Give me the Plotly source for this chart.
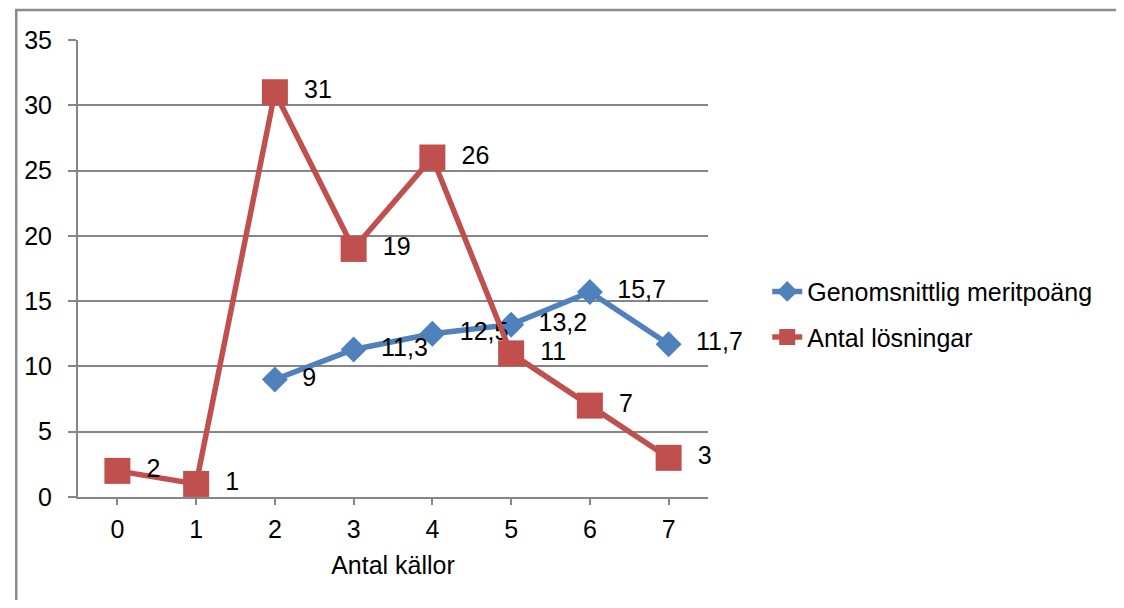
import plotly.graph_objects as go

categories = [0, 1, 2, 3, 4, 5, 6, 7]
meritpoang = [None, None, 9, 11.3, 12.5, 13.2, 15.7, 11.7]
losningar = [2, 1, 31, 19, 26, 11, 7, 3]
y_ticks = [0, 5, 10, 15, 20, 25, 30, 35]

def fmt(v, pad):
    if v is None:
        return ""
    s = ("%g" % v).replace(".", ",")
    return pad + s

BLUE = "#4F81BD"
RED = "#C0504D"
GRID = "#868686"
FONT = "Liberation Sans, Arial, sans-serif"
FS = 25

fig = go.Figure()
fig.add_trace(go.Scatter(
    x=categories, y=meritpoang, name="Genomsnittlig meritpoäng",
    mode="lines+markers+text",
    line=dict(color=BLUE, width=5.5),
    marker=dict(symbol="diamond", size=20, color=BLUE),
    text=[fmt(v, "\u00a0\u00a0") for v in meritpoang], textposition="middle right",
    textfont=dict(size=FS, color="black", family=FONT),
    legendgroup="a", cliponaxis=False,
))
fig.add_trace(go.Scatter(
    x=categories, y=losningar, name="Antal lösningar",
    mode="lines+markers+text",
    line=dict(color=RED, width=5.5),
    marker=dict(symbol="square", size=26, color=RED),
    text=[fmt(v, "\u00a0\u2009") for v in losningar], textposition="middle right",
    textfont=dict(size=FS, color="black", family=FONT),
    legendgroup="b", cliponaxis=False,
))

fig.update_layout(
    width=1108, height=592,
    margin=dict(l=70, r=408, t=32, b=103),
    paper_bgcolor="white", plot_bgcolor="white",
    font=dict(family=FONT, size=FS, color="black"),
    showlegend=True,
    legend=dict(x=1.094, y=0.40, xanchor="left", yanchor="middle",
                font=dict(size=FS, color="black", family=FONT),
                traceorder="grouped", tracegroupgap=10,
                bgcolor="rgba(0,0,0,0)"),
    xaxis=dict(
        range=[-0.5, 7.5], tickmode="array", tickvals=categories,
        ticktext=[str(c) for c in categories],
        showgrid=False, zeroline=False,
        showline=True, linecolor=GRID, linewidth=2,
        ticks="outside", tickson="boundaries", ticklen=6, tickwidth=2, tickcolor=GRID,
        ticklabelstandoff=3,
        title=dict(text="Antal källor", font=dict(size=FS, family=FONT), standoff=14),
        fixedrange=True,
    ),
    yaxis=dict(
        range=[0, 35], tickmode="array", tickvals=y_ticks,
        showgrid=True, gridcolor=GRID, gridwidth=2,
        zeroline=False,
        showline=True, linecolor=GRID, linewidth=2,
        ticks="outside", ticklen=8, tickwidth=2, tickcolor=GRID,
        ticklabelstandoff=11,
        fixedrange=True,
    ),
    shapes=[dict(type="rect", xref="paper", yref="paper",
                 x0=-0.098, x1=1.80, y0=-0.35, y1=1.0656,
                 line=dict(color="#8c8c8c", width=2.5), fillcolor="rgba(0,0,0,0)",
                 layer="below")],
)

fig.write_html("out.html")
